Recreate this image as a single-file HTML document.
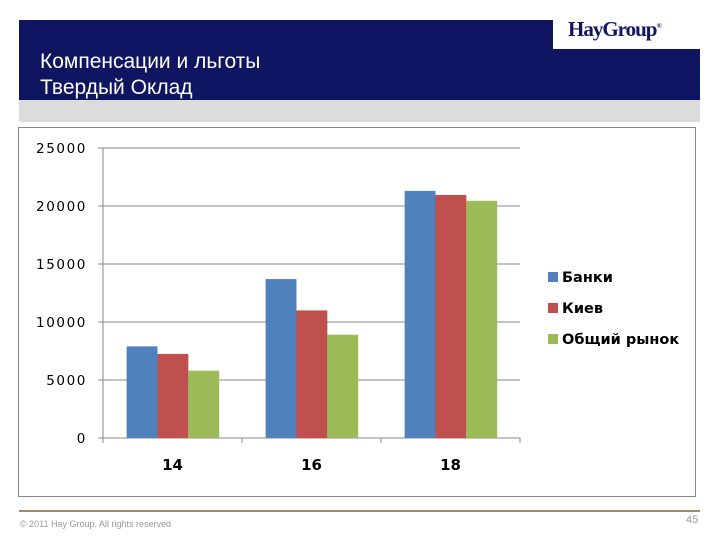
<!DOCTYPE html>
<html><head><meta charset="utf-8"><style>
body{margin:0;width:720px;height:540px;background:#fff;position:relative;overflow:hidden;font-family:"Liberation Sans",sans-serif}
div{position:absolute}
</style></head><body>
<div style="left:19px;top:20px;width:681px;height:80px;background:#0f1560"></div>
<div style="left:19px;top:100px;width:681px;height:22px;background:#dcdcdc"></div>
<div style="left:553px;top:20px;width:147px;height:29px;background:#fff"></div>
<div style="left:568px;top:17px;font-family:'Liberation Serif',serif;font-size:21px;font-weight:bold;color:#0f1560;letter-spacing:-1px">HayGroup<sup style="font-size:7px">®</sup></div>
<div style="left:40px;top:50px;color:#fff;font-size:21px;line-height:24px">Компенсации и льготы</div>
<div style="left:40px;top:76px;color:#fff;font-size:21px;line-height:24px">Твердый Оклад</div>
<div style="left:18px;top:127px;width:678px;height:370px;border:1px solid #888;box-sizing:border-box"></div>
<div style="left:19px;top:510px;width:681px;height:2px;background:#9c8a6a"></div>
<div style="left:20px;top:519px;font-size:9px;color:#999">© 2011 Hay Group. All rights reserved</div>
<div style="left:686px;top:514px;font-size:11px;color:#999">45</div>
<svg width="720" height="540" style="position:absolute;left:0;top:0" id="c"></svg>
<script>
const categories=["14","16","18"];
const seriesNames=["Банки","Киев","Общий рынок"];
const banks=[7900,13700,21300];
const kiev=[7250,11000,20950];
const market=[5800,8900,20450];
const yTicks=[0,5000,10000,15000,20000,25000];
const colors=["#4f81bd","#c0504d","#9bbb59"];
const svg=document.getElementById('c');const NS="http://www.w3.org/2000/svg";
const x0=103,x1=520,y0=438,y1=148,ymax=25000;
const y=v=>y0-(v/ymax)*(y0-y1);
const band=(x1-x0)/categories.length;
function mk(t,a){const e=document.createElementNS(NS,t);for(const k in a)e.setAttribute(k,a[k]);svg.appendChild(e);return e;}
yTicks.forEach(t=>{
 const l=mk('line',{x1:x0-5,x2:x1,y1:y(t),y2:y(t),stroke:'#888','stroke-width':1});
 
 
 const tx=mk('text',{x:x0-16,y:y(t)+5,'text-anchor':'end','font-size':13.5,'letter-spacing':'1.6','font-family':'DejaVu Sans, sans-serif',fill:'#000'});
 tx.textContent=t;
 
 
});
const ax=mk('line',{x1:x0,x2:x0,y1:y1,y2:y0+5,stroke:'#888'});


const series=[banks,kiev,market];
categories.forEach((c,i)=>{
 const gx=x0+band*i;
 const tk=mk('line',{x1:gx+band,x2:gx+band,y1:y0,y2:y0+5,stroke:'#888'});
 
 
 series.forEach((s,j)=>{
  const bw=band*0.222,bx=gx+band*0.17+bw*j;
  const r=mk('rect',{x:bx,y:y(s[i]),width:bw,height:y0-y(s[i]),fill:colors[j]});
  
  
 });
 const t=mk('text',{x:gx+band/2,y:y0+32,'text-anchor':'middle','font-size':15,'font-weight':'bold','font-family':'DejaVu Sans, sans-serif'});
 t.textContent=c;
 
 
});
seriesNames.forEach((n,j)=>{
 const ly=280+j*31;
 const r=mk('rect',{x:548,y:ly-8,width:10,height:10,fill:colors[j]});
 
 
 const t=mk('text',{x:562,y:ly+2,'font-size':14.5,'font-weight':'bold','font-family':'DejaVu Sans, sans-serif'});
 t.textContent=n;
 
 
});
</script>
</body></html>
